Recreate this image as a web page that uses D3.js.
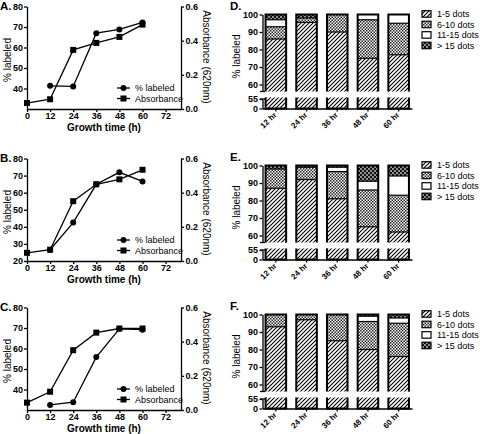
<!DOCTYPE html>
<html><head><meta charset="utf-8">
<script src="https://cdn.jsdelivr.net/npm/d3@7"></script>
<style>body{margin:0;background:#fff} svg{display:block} text{font-family:Arial,"Liberation Sans",sans-serif}</style>
</head><body>
<svg id="c" width="480" height="434"></svg>
<script>
// ---------- data ----------
const hourTicks = [0,12,24,36,48,60,72];
const absHours = [0,12,24,36,48,60];
const pctHours = [12,24,36,48,60];
const pctA = [41.3,41,67,68.8,72.2];
const absA = [0.035,0.057,0.346,0.387,0.422,0.494];
const pctB = [26.6,42.5,64.9,71.9,66.6];
const absB = [0.048,0.066,0.35,0.449,0.478,0.534];
const pctC = [32.5,33.8,55.8,69.6,69.2];
const absC = [0.043,0.107,0.35,0.453,0.477,0.477];
const leftTicksAC = [40,50,60,70,80];
const leftTicksB = [20,30,40,50,60,70,80];
const rightTicks = [0,0.2,0.4,0.6];

const barCategories = ["12 hr","24 hr","36 hr","48 hr","60 hr"];
const seriesNames = ["1-5 dots","6-10 dots","11-15 dots","> 15 dots"];
const D_1_5 = [86,95.5,90,75,77];
const D_6_10 = [7,2.5,10,22,18];
const D_11_15 = [4,0,0,3,5];
const D_gt15 = [3,2,0,0,0];
const E_1_5 = [87,92,81,65,62];
const E_6_10 = [11,7,15.5,21,21];
const E_11_15 = [0,0,2.5,5,11];
const E_gt15 = [2,1,1,9,6];
const F_1_5 = [93,97,85,80,76];
const F_6_10 = [7,3,15,16,19];
const F_11_15 = [0,0,0,3,3];
const F_gt15 = [0,0,0,1,2];
const barTopTicks = [60,70,80,90,100];
const barBotTicks = [0,55];

// ---------- setup ----------
const svg = d3.select("#c");
const defs = svg.append("defs");
const ph = defs.append("pattern").attr("id","hatch").attr("patternUnits","userSpaceOnUse").attr("width",4).attr("height",4);
ph.append("rect").attr("width",4).attr("height",4).attr("fill","#fff");
ph.append("path").attr("d","M-1,1 L1,-1 M0,4 L4,0 M3,5 L5,3").attr("stroke","#000").attr("stroke-width",1.1);
const pc = defs.append("pattern").attr("id","check").attr("patternUnits","userSpaceOnUse").attr("width",3).attr("height",3);
pc.append("rect").attr("width",3).attr("height",3).attr("fill","#fff");
pc.append("rect").attr("width",1.5).attr("height",1.5).attr("fill","#222");
pc.append("rect").attr("x",1.5).attr("y",1.5).attr("width",1.5).attr("height",1.5).attr("fill","#222");
const pd = defs.append("pattern").attr("id","dots").attr("patternUnits","userSpaceOnUse").attr("width",4).attr("height",4);
pd.append("rect").attr("width",4).attr("height",4).attr("fill","#111");
pd.append("ellipse").attr("cx",1).attr("cy",1).attr("rx",1).attr("ry",0.8).attr("fill","#fff");
pd.append("ellipse").attr("cx",3).attr("cy",3).attr("rx",1).attr("ry",0.8).attr("fill","#fff");
const fills = ["url(#hatch)","url(#check)","#fff","url(#dots)"];

function styleAxis(g){
  g.selectAll("path.domain").attr("stroke","#000").attr("stroke-width",1.3);
  g.selectAll(".tick line").attr("stroke","#000").attr("stroke-width",1.3);
  g.selectAll(".tick text").attr("font-size",9).attr("font-weight","bold").attr("fill","#000")
    .attr("font-family","Arial, 'Liberation Sans', sans-serif");
}

// ---------- line panels ----------
function linePanel(base, label, pct, abs, yDom, yTicks){
  const g = svg.append("g");
  const x = d3.scaleLinear([0,80],[27,181]);
  const yL = d3.scaleLinear(yDom,[base, base-102.5]);
  const yR = d3.scaleLinear([0,0.6],[base, base-102.5]);
  const ax = g.append("g").attr("transform",`translate(0,${base})`)
    .call(d3.axisBottom(x).tickValues(hourTicks).tickSize(3).tickSizeOuter(0).tickPadding(1));
  styleAxis(ax);
  const al = g.append("g").attr("transform","translate(27,0)")
    .call(d3.axisLeft(yL).tickValues(yTicks).tickSize(3).tickSizeOuter(0).tickPadding(1));
  styleAxis(al);
  const ar = g.append("g").attr("transform","translate(181,0)")
    .call(d3.axisRight(yR).tickValues(rightTicks).tickFormat(d3.format(".1f")).tickSize(3).tickSizeOuter(0).tickPadding(1.5));
  styleAxis(ar);

  const pctPts = pctHours.map((h,i)=>[h,pct[i]]);
  const absPts = absHours.map((h,i)=>[h,abs[i]]);
  g.append("path").attr("d",d3.line().x(d=>x(d[0])).y(d=>yL(d[1]))(pctPts))
    .attr("fill","none").attr("stroke","#000").attr("stroke-width",1.3);
  g.append("path").attr("d",d3.line().x(d=>x(d[0])).y(d=>yR(d[1]))(absPts))
    .attr("fill","none").attr("stroke","#000").attr("stroke-width",1.3);
  g.selectAll(".c").data(pctPts).join("circle").attr("cx",d=>x(d[0])).attr("cy",d=>yL(d[1])).attr("r",3).attr("fill","#000");
  g.selectAll(".s").data(absPts).join("rect").attr("x",d=>x(d[0])-3).attr("y",d=>yR(d[1])-3).attr("width",6).attr("height",6).attr("fill","#000");

  // legend
  const ly = [base-21, base-10.5];
  ly.forEach((yy,i)=>{
    g.append("line").attr("x1",117).attr("x2",130).attr("y1",yy).attr("y2",yy).attr("stroke","#000").attr("stroke-width",1.3);
    if(i===0) g.append("circle").attr("cx",123.5).attr("cy",yy).attr("r",3).attr("fill","#000");
    else g.append("rect").attr("x",120.5).attr("y",yy-3).attr("width",6).attr("height",6).attr("fill","#000");
    g.append("text").attr("x",135).attr("y",yy).attr("dy","0.35em").attr("font-size",9).text(i===0?"% labeled":"Absorbance");
  });

  g.append("text").attr("x",0).attr("y",base-99).attr("font-size",11.5).attr("font-weight","bold").text(label);
  g.append("text").attr("transform",`translate(10.5,${base-49}) rotate(-90)`).attr("text-anchor","middle").attr("font-size",10).text("% labeled");
  g.append("text").attr("transform",`translate(203,${base-52}) rotate(90)`).attr("text-anchor","middle").attr("font-size",10).text("Absorbance (620nm)");
  g.append("text").attr("x",104).attr("y",base+21.8).attr("text-anchor","middle").attr("font-size",10).attr("font-weight","bold").text("Growth time (h)");
}

// ---------- bar panels ----------
function barPanel(base, label, s1, s2, s3, s4){
  const g = svg.append("g");
  const series = [s1,s2,s3,s4];
  const x = d3.scaleBand(barCategories,[262.5,412]).paddingInner(0.33).paddingOuter(0.1);
  const yTop = d3.scaleLinear([56,100],[base-17, base-94]);
  const yBot = d3.scaleLinear([0,55],[base, base-9.5]);
  const bw = x.bandwidth();
  barCategories.forEach((c,i)=>{
    const bx = x(c);
    let cum = 0;
    series.forEach((s,k)=>{
      const v0 = cum, v1 = cum + s[i];
      cum = v1;
      if(s[i] <= 0) return;
      const a = Math.max(v0,56);
      if(v1 <= 56) return;
      const yT = yTop(v1), yB = yTop(a);
      g.append("rect").attr("x",bx).attr("y",yT).attr("width",bw).attr("height",yB-yT)
        .attr("fill",fills[k]);
      if(v0 > 56) g.append("line").attr("x1",bx).attr("x2",bx+bw).attr("y1",yB).attr("y2",yB).attr("stroke","#000").attr("stroke-width",1.2);
    });
    // lower part (1-5 dots)
    const lowTop = yBot(55)-1.5;
    g.append("rect").attr("x",bx).attr("y",lowTop).attr("width",bw).attr("height",base-lowTop).attr("fill",fills[0]);
    // outlines
    g.append("path").attr("d",`M${bx},${yTop(56)}V${yTop(100)}H${bx+bw}V${yTop(56)}`)
      .attr("fill","none").attr("stroke","#000").attr("stroke-width",2);
    g.append("path").attr("d",`M${bx},${lowTop}V${base}H${bx+bw}V${lowTop}`)
      .attr("fill","none").attr("stroke","#000").attr("stroke-width",2);
  });
  const ax = g.append("g").attr("transform",`translate(0,${base})`)
    .call(d3.axisBottom(x).tickSize(3).tickSizeOuter(0));
  styleAxis(ax);
  ax.selectAll(".tick text").attr("font-size",8).attr("text-anchor","end")
    .attr("x",-4).attr("y",3).attr("dy","0.35em").attr("transform","rotate(-45)");
  const at = g.append("g").attr("transform","translate(262.5,0)")
    .call(d3.axisLeft(yTop).tickValues(barTopTicks).tickSize(3).tickSizeOuter(0).tickPadding(1.5));
  styleAxis(at);
  const ab = g.append("g").attr("transform","translate(262.5,0)")
    .call(d3.axisLeft(yBot).tickValues(barBotTicks).tickSize(3).tickSizeOuter(0).tickPadding(1.5));
  styleAxis(ab);
  [yTop(56), yBot(55)].forEach(yy=>{
    g.append("line").attr("x1",260).attr("x2",265).attr("y1",yy).attr("y2",yy).attr("stroke","#000").attr("stroke-width",1.3);
  });

  // legend
  seriesNames.forEach((n,k)=>{
    const yy = base-94.5 + k*10.5;
    g.append("rect").attr("x",422).attr("y",yy-3.3).attr("width",9).attr("height",6.5)
      .attr("fill",fills[k]).attr("stroke","#000").attr("stroke-width",1.2);
    g.append("text").attr("x",437).attr("y",yy).attr("dy","0.35em").attr("font-size",9).text(n);
  });

  g.append("text").attr("x",230).attr("y",base-99).attr("font-size",11.5).attr("font-weight","bold").text(label);
  g.append("text").attr("transform",`translate(240,${base-52}) rotate(-90)`).attr("text-anchor","middle").attr("font-size",10).text("% labeled");
}

linePanel(109, "A.", pctA, absA, [30,80], leftTicksAC);
linePanel(261, "B.", pctB, absB, [20,80], leftTicksB);
linePanel(410, "C.", pctC, absC, [30,80], leftTicksAC);
barPanel(108.5, "D.", D_1_5, D_6_10, D_11_15, D_gt15);
barPanel(259.5, "E.", E_1_5, E_6_10, E_11_15, E_gt15);
barPanel(408.5, "F.", F_1_5, F_6_10, F_11_15, F_gt15);
</script>
</body></html>
